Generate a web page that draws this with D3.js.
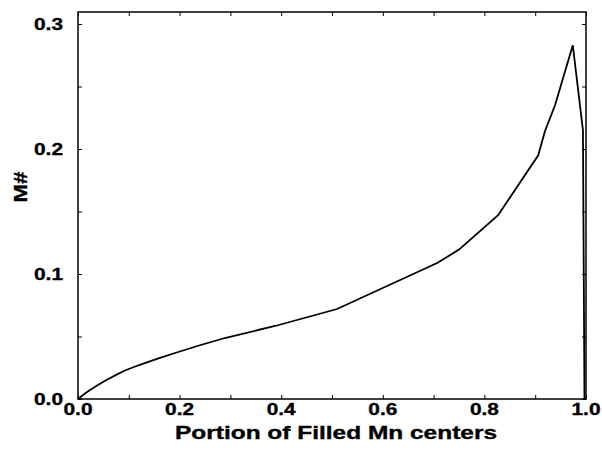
<!DOCTYPE html>
<html>
<head>
<meta charset="utf-8">
<script src="https://cdn.jsdelivr.net/npm/d3@7"></script>
<style>
  body { margin: 0; background: #fff; }
  text { font-family: "Liberation Sans", Arial, sans-serif; font-weight: bold; fill: #000; stroke: #000; stroke-width: 0.35; }
</style>
</head>
<body>
<div id="chart"></div>
<script>
'use strict';

// values
const portion = [0, 0.015, 0.035, 0.055, 0.075, 0.0925, 0.11, 0.13, 0.16, 0.191, 0.24, 0.289, 0.388, 0.51, 0.707, 0.75, 0.827, 0.906, 0.919, 0.939, 0.974, 0.994, 0.997];
const mNumber = [0, 0.0048, 0.0102, 0.0150, 0.0193, 0.0228, 0.0256, 0.0285, 0.0327, 0.0368, 0.0430, 0.0488, 0.0584, 0.072, 0.1088, 0.1195, 0.147, 0.195, 0.214, 0.235, 0.283, 0.215, 0];
const xTickLabels = [0, 0.2, 0.4, 0.6, 0.8, 1.0];
const yTickLabels = [0, 0.1, 0.2, 0.3];

const W = 602, H = 453;
const plotL = 78, plotR = 586, plotT = 12, plotB = 399;

const x = d3.scaleLinear().domain([0, 1]).range([plotL, plotR]);
const y = d3.scaleLinear().domain([0, 0.3]).range([plotB, 24]);

const svg = d3.select('#chart').append('svg').attr('width', W).attr('height', H);

/* frame */
svg.append('rect')
    .attr('x', plotL).attr('y', plotT)
    .attr('width', plotR - plotL).attr('height', plotB - plotT)
    .attr('fill', 'none').attr('stroke', '#000').attr('stroke-width', 1.5);

/* inward ticks on all four sides */
const xt = d3.range(0, 11).map(i => i / 10);
const yt = d3.range(0, 7).map(i => i / 20);
const tickLen = 4;

svg.append('g').attr('transform', `translate(0,${plotB})`)
    .call(d3.axisBottom(x).tickValues(xt).tickSize(-tickLen).tickFormat(''))
    .call(g => g.select('.domain').remove());
svg.append('g').attr('transform', `translate(0,${plotT})`)
    .call(d3.axisTop(x).tickValues(xt).tickSize(-tickLen).tickFormat(''))
    .call(g => g.select('.domain').remove());
svg.append('g').attr('transform', `translate(${plotL},0)`)
    .call(d3.axisLeft(y).tickValues(yt).tickSize(-tickLen).tickFormat(''))
    .call(g => g.select('.domain').remove());
svg.append('g').attr('transform', `translate(${plotR},0)`)
    .call(d3.axisRight(y).tickValues(yt).tickSize(-tickLen).tickFormat(''))
    .call(g => g.select('.domain').remove());
svg.selectAll('.tick line').attr('stroke', '#000').attr('stroke-width', 1);

/* tick labels */
svg.append('g').selectAll('text').data(xTickLabels).join('text')
    .attr('x', d => x(d)).attr('y', 415)
    .attr('text-anchor', 'middle').attr('font-size', 16.5)
    .attr('textLength', 29).attr('lengthAdjust', 'spacingAndGlyphs')
    .text(d => d.toFixed(1));

svg.append('g').selectAll('text').data(yTickLabels).join('text')
    .attr('x', 63).attr('y', d => y(d) + 6)
    .attr('text-anchor', 'end').attr('font-size', 16.5)
    .attr('textLength', 29).attr('lengthAdjust', 'spacingAndGlyphs')
    .text(d => d.toFixed(1));

/* axis titles */
svg.append('text')
    .attr('x', (175 + 497) / 2).attr('y', 439)
    .attr('text-anchor', 'middle').attr('font-size', 18)
    .attr('textLength', 322).attr('lengthAdjust', 'spacingAndGlyphs')
    .text('Portion of Filled Mn centers');

svg.append('text')
    .attr('transform', `translate(27,187) rotate(-90)`)
    .attr('text-anchor', 'middle').attr('font-size', 18)
    .attr('textLength', 31).attr('lengthAdjust', 'spacingAndGlyphs')
    .text('M#');

/* curve */
svg.append('path')
    .datum(d3.zip(portion, mNumber))
    .attr('d', d3.line().x(d => x(d[0])).y(d => y(d[1])))
    .attr('fill', 'none').attr('stroke', '#000').attr('stroke-width', 1.8)
    .attr('stroke-linejoin', 'miter');
</script>
</body>
</html>
